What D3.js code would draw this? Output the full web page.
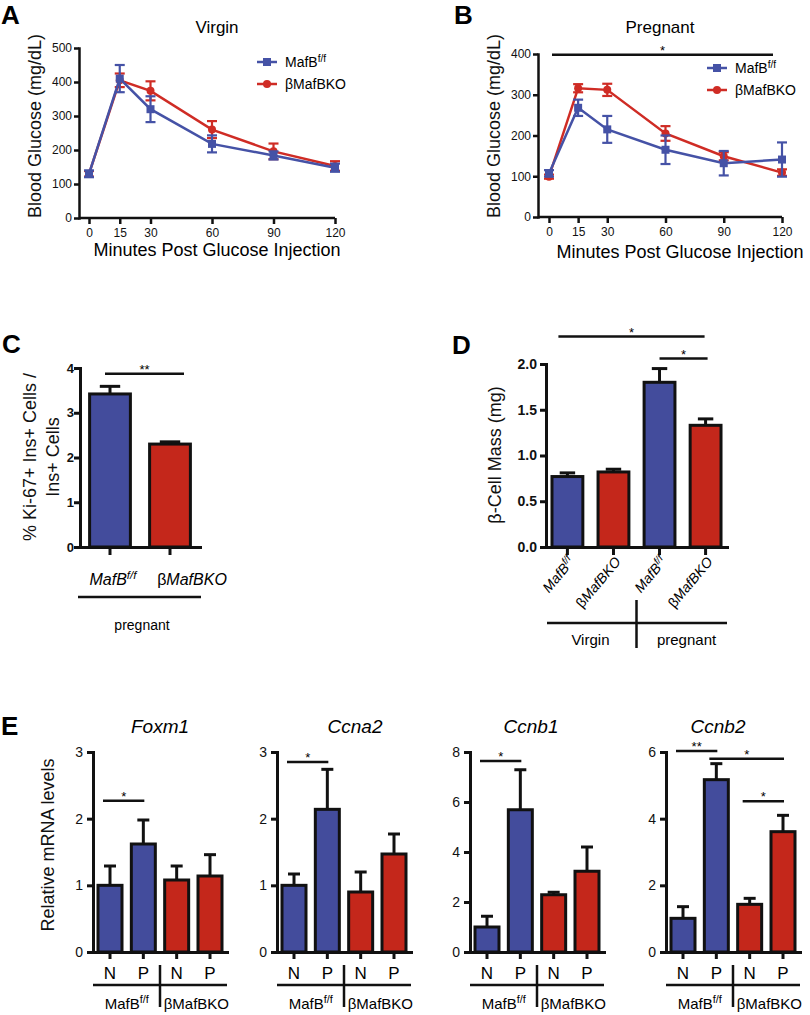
<!DOCTYPE html>
<html>
<head>
<meta charset="utf-8">
<script src="https://cdn.jsdelivr.net/npm/d3@7"></script>
<style>
body { margin: 0; background: #fff; }
svg { font-family: "Liberation Sans", Arial, Helvetica, sans-serif; }
</style>
</head>
<body>
<svg id="fig" width="810" height="1015"></svg>
<script>
// glucose tolerance test, minutes after injection
let minutes = [0, 15, 30, 60, 90, 120];
let virginFlox = [130, 410, 320, 218, 184, 148];
let virginFloxSem = [10, 40, 38, 25, 12, 12];
let virginKO = [130, 405, 374, 260, 196, 153];
let virginKOSem = [8, 20, 28, 25, 23, 14];
let pregFlox = [107, 268, 215, 165, 132, 141];
let pregFloxSem = [8, 20, 33, 35, 30, 42];
let pregKO = [99, 316, 312, 205, 149, 109];
let pregKOSem = [5, 10, 15, 18, 10, 8];

// Ki-67 (C)
let ki67Groups = ['flox', 'ko'];
let ki67 = [3.42, 2.30];
let ki67Sem = [0.17, 0.05];

// beta cell mass (D)
let massGroups = ['vFlox', 'vKO', 'pFlox', 'pKO'];
let mass = [0.77, 0.82, 1.80, 1.33];
let massSem = [0.04, 0.03, 0.15, 0.07];

// qPCR (E)
let genes = ['Foxm1', 'Ccna2', 'Ccnb1', 'Ccnb2'];
let geneTicks = [[0, 1, 2, 3], [0, 1, 2, 3], [0, 2, 4, 6, 8], [0, 2, 4, 6]];
let npGroups = ['fN', 'fP', 'kN', 'kP'];
let npLabels = ['N', 'P', 'N', 'P'];
let mrna = [[1.0, 1.62, 1.08, 1.14], [1.0, 2.14, 0.90, 1.47], [1.0, 5.69, 2.29, 3.23], [1.01, 5.17, 1.43, 3.61]];
let mrnaSem = [[0.29, 0.36, 0.21, 0.32], [0.17, 0.60, 0.30, 0.30], [0.43, 1.60, 0.10, 0.97], [0.35, 0.48, 0.18, 0.49]];
// [from, to, height, label]
let mrnaSig = [[[0, 1, 2.27, '*']], [[0, 1, 2.85, '*']], [[0, 1, 7.64, '*']],
  [[0, 1, 6.03, '**'], [1, 3, 5.8, '*'], [2, 3, 4.52, '*']]];

let BLUE = '#434c9c', RED = '#c4271b';
let LBLUE = '#4552a6', LRED = '#cf2c25';
let FONT = '"Liberation Sans", Arial, Helvetica, sans-serif';

let svg = d3.select('#fig');

function styleAxis(sel, w, size, weight) {
  sel.attr('font-family', FONT).attr('font-size', size);
  sel.select('.domain').attr('stroke-width', w).attr('stroke-linecap', 'square').attr('stroke', '#111');
  sel.selectAll('.tick line').attr('stroke-width', w).attr('stroke', '#111');
  sel.selectAll('.tick text').attr('fill', '#111').attr('font-weight', weight || 'normal');
}

function mafb(text, size) {
  text.append('tspan').text('MafB');
  text.append('tspan').attr('font-size', size * 0.72).attr('dy', -size * 0.38).text('f/f');
}

function ko(text) {
  text.append('tspan').attr('font-style', 'normal').text('β');
  text.append('tspan').text('MafBKO');
}

function panelLetter(t, x, y) {
  svg.append('text').attr('x', x).attr('y', y).attr('font-size', 26).attr('font-weight', 'bold').text(t);
}

function sig(g, x1, x2, yy, label) {
  g.append('line').attr('x1', x1).attr('x2', x2).attr('y1', yy).attr('y2', yy)
    .attr('stroke', '#111').attr('stroke-width', 2.5);
  g.append('text').attr('x', (x1 + x2) / 2).attr('y', yy).attr('text-anchor', 'middle')
    .attr('font-size', 13).text(label);
}

function yTitle(g, x, y, lines, size) {
  let t = g.append('text').attr('transform', `translate(${x},${y}) rotate(-90)`)
    .attr('text-anchor', 'middle').attr('font-size', size).attr('fill', '#111');
  lines.forEach((l, i) => t.append('tspan').attr('x', 0).attr('dy', i ? size * 1.25 : 0).text(l));
}

function ogtt(o) {
  let g = svg.append('g');
  let x = d3.scaleLinear().domain([0, 120]).range([o.xStart, o.xEnd]);
  let y = d3.scaleLinear().domain([0, o.yMax]).range([o.yBottom, o.yTop]);

  let ya = g.append('g').attr('transform', `translate(${o.axisX},0)`)
    .call(d3.axisLeft(y).ticks(o.yMax / 100).tickSize(5).tickPadding(2).tickSizeOuter(0));
  styleAxis(ya, 2.5, 12);
  let xa = g.append('g').attr('transform', `translate(0,${o.yBottom})`)
    .call(d3.axisBottom(x).tickValues(minutes).tickSize(6).tickPadding(4));
  styleAxis(xa, 2.5, 12);
  xa.select('.domain').remove();
  g.append('line').attr('x1', o.axisX).attr('x2', x(120)).attr('y1', o.yBottom).attr('y2', o.yBottom)
    .attr('stroke', '#111').attr('stroke-width', 2.5);

  g.append('text').attr('x', o.titleX).attr('y', 33).attr('text-anchor', 'middle').attr('font-size', 17).text(o.title);
  g.append('text').attr('x', o.xTitleX).attr('y', o.xTitleY).attr('text-anchor', 'middle').attr('font-size', 18)
    .text('Minutes Post Glucose Injection');
  yTitle(g, o.axisX - 38, 126, ['Blood Glucose (mg/dL)'], 18);

  let line = d3.line().x((d, i) => x(minutes[i])).y(d => y(d));
  o.series.forEach(s => {
    g.append('path').datum(s.values).attr('d', line).attr('fill', 'none')
      .attr('stroke', s.color).attr('stroke-width', 2.5);
    let eb = g.append('g').attr('stroke', s.color).attr('stroke-width', 2.2);
    s.values.forEach((v, i) => {
      let cx = x(minutes[i]), e = s.sem[i];
      eb.append('line').attr('x1', cx).attr('x2', cx).attr('y1', y(v - e)).attr('y2', y(v + e));
      [v - e, v + e].forEach(w => eb.append('line').attr('x1', cx - 5).attr('x2', cx + 5).attr('y1', y(w)).attr('y2', y(w)));
    });
    s.values.forEach((v, i) => {
      if (s.shape === 'square') {
        g.append('rect').attr('x', x(minutes[i]) - 4).attr('y', y(v) - 4).attr('width', 8).attr('height', 8).attr('fill', s.color);
      } else {
        g.append('circle').attr('cx', x(minutes[i])).attr('cy', y(v)).attr('r', 4).attr('fill', s.color);
      }
    });
  });

  // legend
  [o.series[1], o.series[0]].forEach((s, k) => {
    let ly = o.legY + k * 22;
    g.append('line').attr('x1', o.legX).attr('x2', o.legX + 20).attr('y1', ly).attr('y2', ly)
      .attr('stroke', s.color).attr('stroke-width', 2.5);
    if (s.shape === 'square') {
      g.append('rect').attr('x', o.legX + 6).attr('y', ly - 4).attr('width', 8).attr('height', 8).attr('fill', s.color);
    } else {
      g.append('circle').attr('cx', o.legX + 10).attr('cy', ly).attr('r', 4).attr('fill', s.color);
    }
    let t = g.append('text').attr('x', o.legX + 28).attr('y', ly + 5).attr('font-size', 14);
    if (s.shape === 'square') mafb(t, 14); else ko(t);
  });
  return {g, x, y};
}

// A
panelLetter('A', 1, 24);
ogtt({
  axisX: 79, xStart: 89, xEnd: 335, yBottom: 218, yTop: 48, yMax: 500,
  title: 'Virgin', titleX: 217, xTitleX: 217, xTitleY: 256, legX: 257, legY: 62,
  series: [
    {values: virginKO, sem: virginKOSem, color: LRED, shape: 'circle'},
    {values: virginFlox, sem: virginFloxSem, color: LBLUE, shape: 'square'}
  ]
});

// B
panelLetter('B', 454, 24);
let pB = ogtt({
  axisX: 538, xStart: 549, xEnd: 782, yBottom: 217, yTop: 54, yMax: 400,
  title: 'Pregnant', titleX: 660, xTitleX: 680, xTitleY: 258, legX: 707, legY: 68,
  series: [
    {values: pregKO, sem: pregKOSem, color: LRED, shape: 'circle'},
    {values: pregFlox, sem: pregFloxSem, color: LBLUE, shape: 'square'}
  ]
});
sig(pB.g, pB.x(0) + 3, pB.x(120) - 9, pB.y(398), '*');

// generic bar chart
function bars(o) {
  let g = svg.append('g');
  let x = d3.scaleBand().domain(o.groups).range([o.axisX, o.xEnd]).paddingInner(o.pin).paddingOuter(o.pout);
  let y = d3.scaleLinear().domain([0, o.yMax]).range([o.yBottom, o.yTop]);
  let ya = g.append('g').attr('transform', `translate(${o.axisX},0)`)
    .call(d3.axisLeft(y).tickValues(o.ticks).tickFormat(o.fmt || d3.format('d')).tickSize(6).tickPadding(o.tpad).tickSizeOuter(0));
  styleAxis(ya, 3, o.tickFont, o.tickWeight);
  let xa = g.append('g').attr('transform', `translate(0,${o.yBottom})`)
    .call(d3.axisBottom(x).tickSize(o.xTick).tickFormat('').tickSizeOuter(0));
  styleAxis(xa, 3, 12);

  o.values.forEach((v, i) => {
    let cx = x(o.groups[i]) + x.bandwidth() / 2, bw = x.bandwidth();
    g.append('rect').attr('x', x(o.groups[i])).attr('y', y(v)).attr('width', bw).attr('height', y(0) - y(v))
      .attr('fill', o.colors[i]).attr('stroke', '#111').attr('stroke-width', 3);
    let top = y(v + o.sem[i]);
    g.append('line').attr('x1', cx).attr('x2', cx).attr('y1', y(v)).attr('y2', top).attr('stroke', '#111').attr('stroke-width', 3);
    g.append('line').attr('x1', cx - bw / 4).attr('x2', cx + bw / 4).attr('y1', top).attr('y2', top).attr('stroke', '#111').attr('stroke-width', 3);
  });
  let c = k => x(o.groups[k]) + x.bandwidth() / 2;
  return {g, x, y, c};
}

// C
panelLetter('C', 2, 353);
let pC = bars({
  groups: ki67Groups, values: ki67, sem: ki67Sem, colors: [BLUE, RED],
  axisX: 80, xEnd: 200, pin: 0.32, pout: 0.16, yBottom: 547, yTop: 368, yMax: 4,
  ticks: [0, 1, 2, 3, 4], tpad: 0, tickFont: 13, tickWeight: 'bold', xTick: 8
});
sig(pC.g, pC.c(0) - 5, pC.c(1) + 14, pC.y(3.87), '**');
yTitle(pC.g, 36, 457, ['% Ki-67+ Ins+ Cells /', 'Ins+ Cells'], 18);
let cl0 = pC.g.append('text').attr('x', pC.c(0) + 3).attr('y', 585).attr('text-anchor', 'middle')
  .attr('font-size', 16).attr('font-style', 'italic');
mafb(cl0, 16);
let cl1 = pC.g.append('text').attr('x', pC.c(1) + 22).attr('y', 585).attr('text-anchor', 'middle')
  .attr('font-size', 16).attr('font-style', 'italic');
ko(cl1);
pC.g.append('line').attr('x1', 78).attr('x2', 201).attr('y1', 597).attr('y2', 597).attr('stroke', '#111').attr('stroke-width', 2.5);
pC.g.append('text').attr('x', (pC.c(0) + pC.c(1)) / 2 + 2).attr('y', 630).attr('text-anchor', 'middle').attr('font-size', 14).text('pregnant');

// D
panelLetter('D', 452, 354);
let pD = bars({
  groups: massGroups, values: mass, sem: massSem, colors: [BLUE, RED, BLUE, RED],
  axisX: 546, xEnd: 727, pin: 0.33, pout: 0.13, yBottom: 547, yTop: 364, yMax: 2,
  ticks: [0, 0.5, 1, 1.5, 2], fmt: d3.format('.1f'), tpad: 3, tickFont: 14, tickWeight: 'bold', xTick: 8
});
sig(pD.g, pD.c(0) - 9, pD.c(3) - 1, pD.y(2.30), '*');
sig(pD.g, pD.c(2), pD.c(3) + 2, pD.y(2.06), '*');
yTitle(pD.g, 501, 455, ['β-Cell Mass (mg)'], 18);
massGroups.forEach((grp, i) => {
  let t = pD.g.append('text').attr('text-anchor', 'end').attr('font-size', 14).attr('font-style', 'italic')
    .attr('transform', `translate(${pD.c(i) + 8},${562}) rotate(-50)`);
  if (i % 2 === 0) mafb(t, 14); else ko(t);
});
let midD = (pD.c(1) + pD.c(2)) / 2;
pD.g.append('line').attr('x1', 547).attr('x2', 727).attr('y1', 623).attr('y2', 623).attr('stroke', '#111').attr('stroke-width', 2.5);
pD.g.append('line').attr('x1', midD).attr('x2', midD).attr('y1', 600).attr('y2', 648).attr('stroke', '#111').attr('stroke-width', 2.5);
pD.g.append('text').attr('x', (pD.c(0) + pD.c(1)) / 2).attr('y', 645).attr('text-anchor', 'middle').attr('font-size', 15).text('Virgin');
pD.g.append('text').attr('x', (pD.c(2) + pD.c(3)) / 2 + 4).attr('y', 645).attr('text-anchor', 'middle').attr('font-size', 15).text('pregnant');

// E
panelLetter('E', 1, 735);
let eAxisX = [93, 277, 470, 666];
let eTitleX = [160, 355, 531, 718];
yTitle(svg, 54, 845, ['Relative mRNA levels'], 18);
genes.forEach((gene, k) => {
  let x0 = eAxisX[k];
  let p = bars({
    groups: npGroups, values: mrna[k], sem: mrnaSem[k], colors: [BLUE, BLUE, RED, RED],
    axisX: x0, xEnd: x0 + 134, pin: 0.28, pout: 0.15, yBottom: 952, yTop: 752,
    yMax: d3.max(geneTicks[k]), ticks: geneTicks[k], tpad: 4, tickFont: 14, tickWeight: 'normal', xTick: 7
  });
  p.g.append('text').attr('x', eTitleX[k]).attr('y', 733).attr('text-anchor', 'middle')
    .attr('font-size', 19).attr('font-style', 'italic').text(gene);
  mrnaSig[k].forEach(s => sig(p.g, p.c(s[0]) - 7, p.c(s[1]) + 1, p.y(s[2]), s[3]));
  npLabels.forEach((l, i) => {
    p.g.append('text').attr('x', p.c(i)).attr('y', 979).attr('text-anchor', 'middle').attr('font-size', 17).text(l);
  });
  let mid = (p.c(1) + p.c(2)) / 2;
  p.g.append('line').attr('x1', x0).attr('x2', x0 + 134).attr('y1', 985).attr('y2', 985).attr('stroke', '#111').attr('stroke-width', 2.5);
  p.g.append('line').attr('x1', mid).attr('x2', mid).attr('y1', 965).attr('y2', 1007).attr('stroke', '#111').attr('stroke-width', 2.5);
  let t0 = p.g.append('text').attr('x', (p.c(0) + p.c(1)) / 2).attr('y', 1009).attr('text-anchor', 'middle').attr('font-size', 15);
  mafb(t0, 15);
  let t1 = p.g.append('text').attr('x', (p.c(2) + p.c(3)) / 2 + 3).attr('y', 1009).attr('text-anchor', 'middle').attr('font-size', 15);
  ko(t1);
});
</script>
</body>
</html>
